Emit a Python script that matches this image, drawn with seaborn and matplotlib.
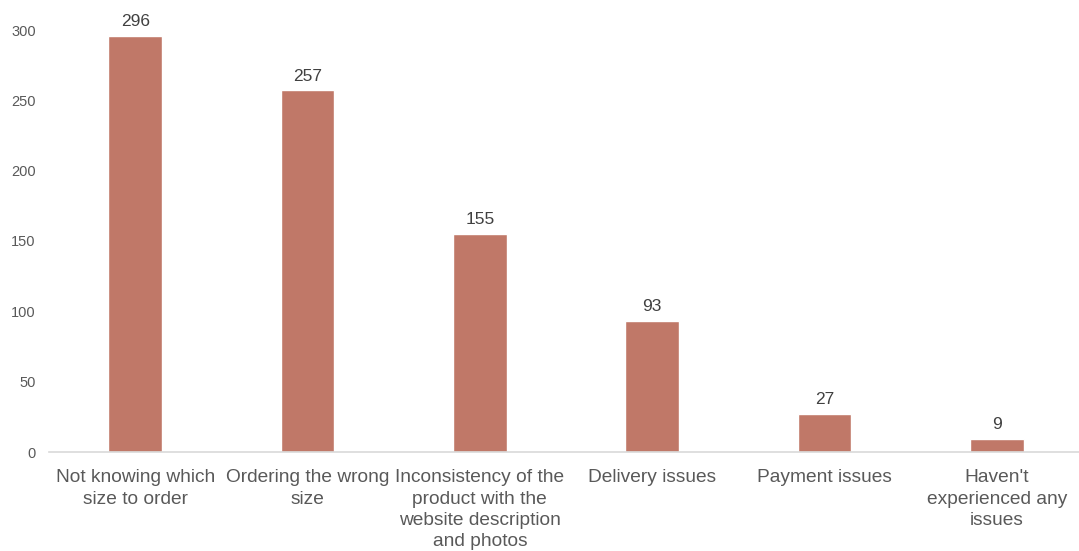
import matplotlib
matplotlib.use("Agg")
import matplotlib.pyplot as plt
import seaborn as sns
import pandas as pd

categories = [
    "Not knowing which\nsize to order",
    "Ordering the wrong\nsize",
    "Inconsistency of the\nproduct with the\nwebsite description\nand photos",
    "Delivery issues",
    "Payment issues",
    "Haven't\nexperienced any\nissues",
]
values = [296, 257, 155, 93, 27, 9]
yticks = [0, 50, 100, 150, 200, 250, 300]

sns.set_theme(style="white")
plt.rcParams['font.family'] = ['Liberation Sans', 'DejaVu Sans']

df = pd.DataFrame({"cat": categories, "val": values})

fig = plt.figure(figsize=(10.79, 5.51), dpi=100)
ax = fig.add_axes([49/1079, 1 - 452/551, (1083 - 49)/1079, (452 - 30)/551])

sns.barplot(data=df, x="cat", y="val", color="#C07868", saturation=1, width=0.31, ax=ax)

ax.set_ylim(0, 300)
ax.set_xlim(-0.5, len(categories) - 0.5)
ax.set_yticks(yticks)
ax.set_xlabel("")
ax.set_ylabel("")
for s in ["top", "right", "left"]:
    ax.spines[s].set_visible(False)
ax.spines["bottom"].set_color("#D9D9D9")
ax.spines["bottom"].set_linewidth(1.2)
ax.tick_params(axis="y", length=0, pad=9.5, labelsize=10.5, labelcolor="#595959")
ax.tick_params(axis="x", length=0, pad=12.5, labelsize=13.8, labelcolor="#595959")
for lab in ax.get_xticklabels():
    lab.set_linespacing(1.32)
    lab.set_verticalalignment("top")

for i, v in enumerate(values):
    ax.annotate(str(v), (i, v), xytext=(0, 5), textcoords="offset points",
                ha="center", va="bottom", fontsize=12.5, color="#404040",
                annotation_clip=False)

fig.savefig("out.png", dpi=100)
